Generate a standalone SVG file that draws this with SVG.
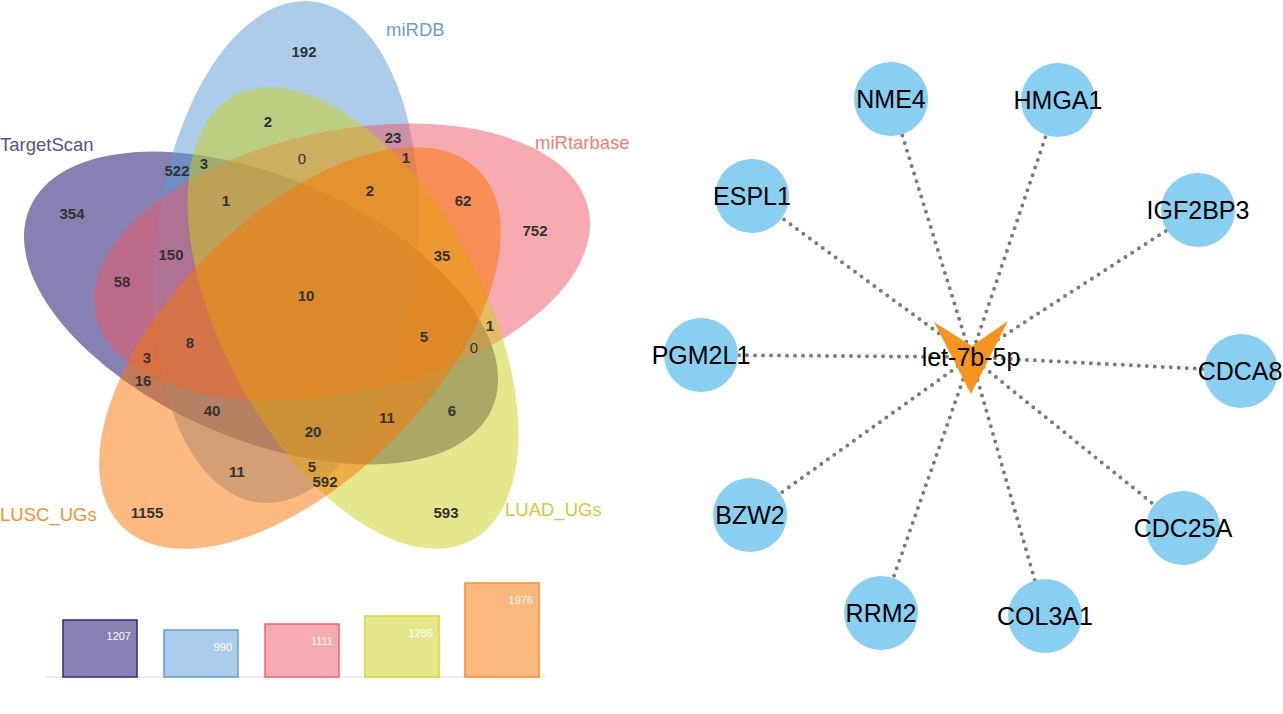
<svg xmlns="http://www.w3.org/2000/svg" width="1283" height="714" viewBox="0 0 1283 714">
<style>
.set{stroke:none;fill-opacity:0.5}
.lbl{font-family:"Liberation Sans",Arial,sans-serif;font-size:18.5px}
.cnt{font-family:"Liberation Sans",Arial,sans-serif;font-size:15px;font-weight:bold;fill:#333;text-anchor:middle}
.zero{font-weight:normal}
.bar{stroke-width:1.5}
.bn{font-family:"Liberation Sans",Arial,sans-serif;font-size:11px;fill:#fff;text-anchor:end}
.edge{stroke:#7b7b7b;stroke-width:4;stroke-dasharray:0 8;stroke-linecap:round;fill:none}
.node circle{fill:#88cff2}
.node text{font-family:"Liberation Sans",Arial,sans-serif;font-size:25px;fill:#000;text-anchor:middle}
</style>
<rect width="1283" height="714" fill="#fff"/>

<g id="venn">
<ellipse id="set-TargetScan" class="set" fill="#0f0165" cx="261" cy="308" rx="252" ry="131" transform="rotate(23.4 261 308)"/>
<ellipse id="set-miRDB" class="set" fill="#579bd5" cx="286" cy="252" rx="131" ry="252" transform="rotate(6 286 252)"/>
<ellipse id="set-miRtarbase" class="set" fill="#ef555f" cx="342" cy="262" rx="252" ry="131" transform="rotate(-12 342 262)"/>
<ellipse id="set-LUAD" class="set" fill="#cbcf19" cx="353" cy="318" rx="131" ry="252" transform="rotate(-28 353 318)"/>
<ellipse id="set-LUSC" class="set" fill="#fb7300" cx="300" cy="348" rx="252" ry="131" transform="rotate(-45 300 348)"/>
</g>

<g id="set-labels" class="lbl">
<text x="0" y="151" fill="#5c4f8b">TargetScan</text>
<text x="386" y="36" fill="#6d9ccf">miRDB</text>
<text x="535" y="149" fill="#f07f6c">miRtarbase</text>
<text x="0" y="521" fill="#f79029">LUSC_UGs</text>
<text x="505" y="516" fill="#d9c63f">LUAD_UGs</text>
</g>

<g id="counts" class="cnt">
<text x="304" y="57">192</text>
<text x="268" y="127">2</text>
<text x="393" y="143">23</text>
<text x="302" y="164" class="zero">0</text>
<text x="406" y="163">1</text>
<text x="204" y="169">3</text>
<text x="177" y="176">522</text>
<text x="226" y="206">1</text>
<text x="370" y="196">2</text>
<text x="463" y="206">62</text>
<text x="72" y="219">354</text>
<text x="535" y="236">752</text>
<text x="171" y="260">150</text>
<text x="442" y="261">35</text>
<text x="122" y="287">58</text>
<text x="306" y="301">10</text>
<text x="490" y="331">1</text>
<text x="424" y="342">5</text>
<text x="190" y="348">8</text>
<text x="474" y="353" class="zero">0</text>
<text x="147" y="363">3</text>
<text x="143" y="386">16</text>
<text x="212" y="416">40</text>
<text x="452" y="416">6</text>
<text x="387" y="423">11</text>
<text x="313" y="437">20</text>
<text x="237" y="477">11</text>
<text x="312" y="472">5</text>
<text x="325" y="487">592</text>
<text x="147" y="518">1155</text>
<text x="446" y="518">593</text>
</g>

<g id="bar-chart">
<line x1="45" y1="677" x2="545" y2="677" stroke="#e6e6e6" stroke-width="1.5"/>
<rect class="bar" x="63" y="620" width="74" height="57" fill="#8780b2" stroke="#2f2a84"/>
<text class="bn" x="131" y="640">1207</text>
<rect class="bar" x="164" y="630" width="74" height="47" fill="#abcdea" stroke="#5d9fdb"/>
<text class="bn" x="232" y="651">990</text>
<rect class="bar" x="265" y="624" width="74" height="53" fill="#f7aaaf" stroke="#f2646d"/>
<text class="bn" x="333" y="645">1111</text>
<rect class="bar" x="365" y="616" width="74" height="61" fill="#e5e78c" stroke="#d7d633"/>
<text class="bn" x="433" y="637">1286</text>
<rect class="bar" x="465" y="583" width="74" height="94" fill="#fdb97d" stroke="#fc8d2c"/>
<text class="bn" x="533" y="604">1976</text>
</g>

<g id="connectors">
<line class="edge" x1="971" y1="357" x2="891" y2="99"/>
<line class="edge" x1="971" y1="357" x2="1058" y2="100"/>
<line class="edge" x1="971" y1="357" x2="752" y2="196"/>
<line class="edge" x1="971" y1="357" x2="1198" y2="210"/>
<line class="edge" x1="971" y1="357" x2="701" y2="355"/>
<line class="edge" x1="971" y1="357" x2="1241" y2="371"/>
<line class="edge" x1="971" y1="357" x2="750" y2="515"/>
<line class="edge" x1="971" y1="357" x2="1183" y2="528"/>
<line class="edge" x1="971" y1="357" x2="881" y2="613"/>
<line class="edge" x1="971" y1="357" x2="1045" y2="616"/>
</g>

<g id="node-NME4" class="node"><circle cx="891" cy="99" r="37"/><text x="891" y="108">NME4</text></g>
<g id="node-HMGA1" class="node"><circle cx="1058" cy="100" r="37"/><text x="1058" y="109">HMGA1</text></g>
<g id="node-ESPL1" class="node"><circle cx="752" cy="196" r="37"/><text x="752" y="205">ESPL1</text></g>
<g id="node-IGF2BP3" class="node"><circle cx="1198" cy="210" r="37"/><text x="1198" y="219">IGF2BP3</text></g>
<g id="node-PGM2L1" class="node"><circle cx="701" cy="355" r="37"/><text x="701" y="364">PGM2L1</text></g>
<g id="node-CDCA8" class="node"><circle cx="1241" cy="371" r="37"/><text x="1240" y="380">CDCA8</text></g>
<g id="node-BZW2" class="node"><circle cx="750" cy="515" r="37"/><text x="750" y="524">BZW2</text></g>
<g id="node-CDC25A" class="node"><circle cx="1183" cy="528" r="37"/><text x="1183" y="537">CDC25A</text></g>
<g id="node-RRM2" class="node"><circle cx="881" cy="613" r="37"/><text x="881" y="622">RRM2</text></g>
<g id="node-COL3A1" class="node"><circle cx="1045" cy="616" r="37"/><text x="1045" y="625">COL3A1</text></g>
<g id="node-let-7b-5p" class="node">
<polygon points="934,322 972,346 1008,321 971,394" fill="#f7941e"/>
<text x="971" y="366">let-7b-5p</text>
</g>
</svg>
